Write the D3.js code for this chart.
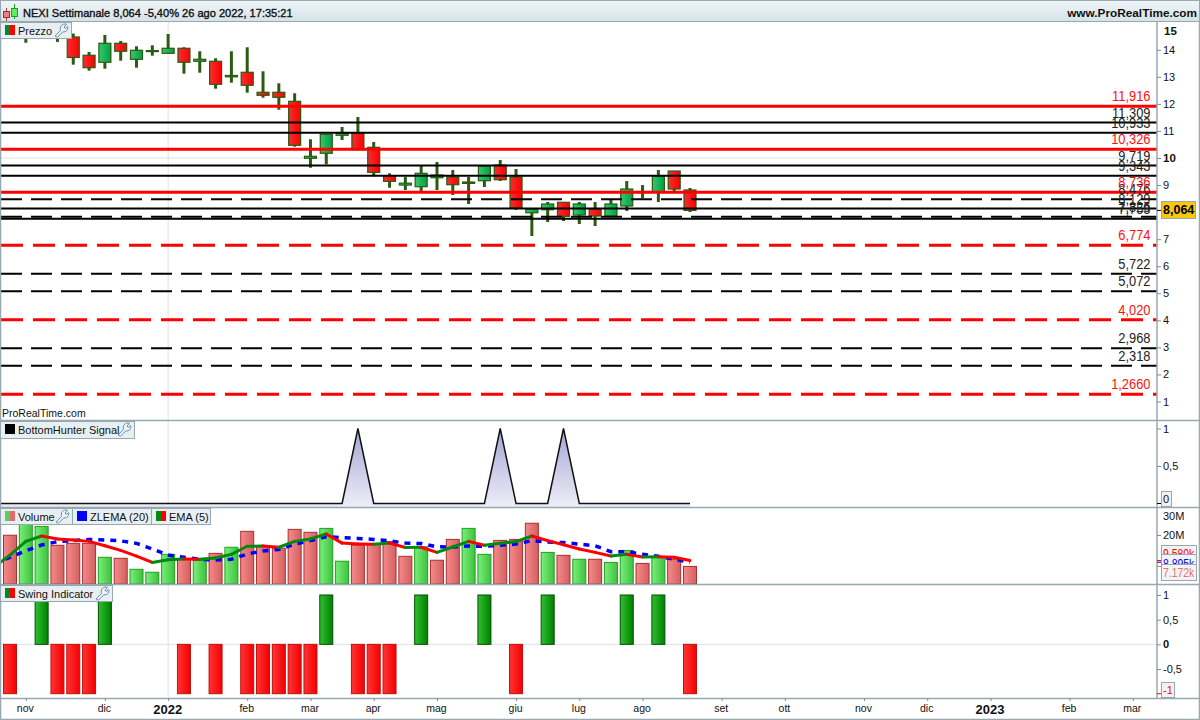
<!DOCTYPE html>
<html><head><meta charset="utf-8">
<script src="https://cdn.jsdelivr.net/npm/d3@7"></script>
<style>
html,body{margin:0;padding:0;background:#fff}
svg{display:block}
text{font-family:"Liberation Sans",Arial,sans-serif;fill:#111}
.axis path{display:none}
.axis line{stroke:#7f8e96}
.axis text{font-size:11px;fill:#111}
</style></head><body>
<svg id="c" width="1200" height="720"></svg>
<script>
// ---- data ----
const title = "NEXI Settimanale 8,064 -5,40% 26 ago 2022, 17:35:21";
const site = "www.ProRealTime.com";
const open = [14.9,14.6,14.8,14.9,14.473,13.797,13.538,14.24,13.649,13.94,13.87,14.055,13.575,13.575,13.0,13.168,12.429,12.429,12.096,9.989,10.174,10.839,10.924,10.395,9.345,9.0,8.939,9.271,9.297,9.112,9.16,9.741,9.297,7.977,8.088,8.362,7.892,8.114,7.855,8.225,8.724,8.743,9.519,8.817];
const high = [15.1,15.0,15.4,15.2,14.6,13.919,14.547,14.325,14.129,14.166,14.584,14.092,13.944,13.686,13.944,14.092,13.205,12.761,12.392,10.691,10.876,11.146,11.515,10.591,9.434,9.297,9.704,9.852,9.556,9.297,9.704,9.926,9.593,8.151,8.373,8.373,8.373,8.373,8.447,9.149,9.0,9.556,9.519,8.891];
const low = [14.55,14.26,14.5,14.29,13.449,13.227,13.301,13.597,13.338,13.782,13.87,13.116,13.153,12.562,12.784,12.414,12.229,11.785,10.418,9.641,9.767,10.665,10.307,9.323,8.902,8.817,8.78,8.817,8.632,8.299,8.928,9.149,8.077,7.116,7.634,7.671,7.56,7.486,7.83,8.04,8.521,8.373,8.743,8.003];
const close = [14.65,14.9,15.2,14.6,13.715,13.338,14.24,13.945,13.981,13.97,14.055,13.538,13.649,12.724,13.05,12.687,12.318,12.244,10.469,10.063,10.876,10.913,10.307,9.471,9.138,9.07,9.434,9.371,9.013,9.061,9.704,9.197,8.151,8.114,8.299,7.844,8.299,7.855,8.299,8.854,8.761,9.334,8.854,8.064];
const candleUp = [0,1,1,0,0,0,1,0,1,1,1,0,1,0,1,0,0,0,0,1,1,1,0,0,0,1,1,1,0,0,1,0,0,1,1,0,1,0,1,1,1,1,0,0];
const levelsRed = [11.916,10.326,8.736];
const levelsBlack = [11.309,10.933,9.719,9.343,8.129,7.753];
const levelsRedDash = [6.774,4.020,1.266];
const levelsBlackDash = [8.476,7.826,5.722,5.072,2.968,2.318];
const levelLabels = {"1.266":"1,2660"};
const priceTicks = [14,13,12,11,10,9,7,6,5,4,3,2,1];
const signal = [0,0,0,0,0,0,0,0,0,0,0,0,0,0,0,0,0,0,0,0,0,0,0,1,0,0,0,0,0,0,0,0,1,0,0,0,1,0,0,0,0,0,0,0,0]; // first entry is the week before the left edge
const volume = [19.9,27.5,23.5,15.8,16.6,16.6,10.9,10.5,6.0,4.8,12.1,10.1,9.8,12.5,15,21.5,15.2,14.6,22.3,21.1,22.7,9.3,15.9,16.1,17.3,11.3,15.2,9.7,18.2,22.7,12.1,17.8,18.2,24.8,12.9,11.7,10.1,10.1,8.8,13.7,8.4,10.9,10.1,7.172];
const volumeUp = [0,1,1,0,0,0,1,0,1,1,1,0,1,0,1,0,0,0,0,0,1,1,0,0,0,0,1,0,0,1,1,0,0,0,1,0,1,0,1,1,0,1,0,0];
const ema = [7.0,11.8,17.4,19.6,18.4,18,17.4,15.6,13.7,11.4,8.8,9.9,10.2,10.1,10.6,12.1,15.4,15.5,15.0,17.4,18.4,20.4,16.7,16.3,16.2,16.7,14.9,15,12.9,15.1,17.4,15.8,16.6,17.3,19.6,17.7,16,14.3,12.9,11.4,12.1,11,11.1,10.9,9.58];
const zlema = [8.4,10.9,13.6,15.9,17.3,17.7,18.2,18,17.6,16.6,14.3,11.8,10.9,10.1,9.8,10.1,12.2,13.5,14.1,16.3,17.7,19.3,18.9,18.6,18.2,17.6,16.7,16.5,15.2,15.1,15.5,15.4,15.8,16.3,17.7,17.1,16.9,16.3,15.6,13.2,13.2,12.1,11.3,10.1,8.895];
const swing = [-1,0,1,-1,-1,-1,1,0,0,0,0,-1,0,-1,0,-1,-1,-1,-1,-1,1,0,-1,-1,-1,0,1,0,0,0,1,0,-1,0,1,0,0,0,0,1,0,1,0,-1];
const monthIdx = [1,6,10,15,19,23,27,32,36,40,45,49,54,58,62,67,71];
const monthLabels = ["nov","dic","2022","feb","mar","apr","mag","giu","lug","ago","set","ott","nov","dic","2023","feb","mar"];

// ---- scales ----
const svg = d3.select("#c");
const W = 1157;
const x = d3.scaleLinear().domain([0,43]).range([10,690]);
const yP = d3.scaleLinear().domain([10,1]).range([158,401.5]);
const yS = d3.scaleLinear().domain([1,0]).range([428.5,503.5]);
const yV = d3.scaleLinear().domain([0,20]).range([584,535]);
const yW = d3.scaleLinear().domain([1,-1]).range([595,693.7]);

const defs = svg.append("defs");
function grad(id,a,b){const g=defs.append("linearGradient").attr("id",id);
  g.append("stop").attr("offset",0).attr("stop-color",a);g.append("stop").attr("offset",1).attr("stop-color",b);}
grad("cRed","#f23030","#ff0000");grad("cGreen","#38c868","#00a048");
grad("vRed","#f58a8a","#d46060");grad("vGreen","#78f078","#40c040");
grad("sRed","#ff3434","#f40000");grad("sGreen","#30c030","#008000");
const hg=defs.append("linearGradient").attr("id","head").attr("x1",0).attr("x2",0).attr("y1",0).attr("y2",1);
hg.append("stop").attr("offset",0).attr("stop-color","#f0f6f8");hg.append("stop").attr("offset",1).attr("stop-color","#d4e2e8");
const sg=defs.append("linearGradient").attr("id","sig").attr("gradientUnits","userSpaceOnUse").attr("x1",0).attr("x2",0).attr("y1",428).attr("y2",507);
sg.append("stop").attr("offset",0).attr("stop-color","#a4a4d4");sg.append("stop").attr("offset",1).attr("stop-color","#eeeef8");
[["cpP",22,420],["cpS",421,507],["cpV",508,584],["cpW",585,698]].forEach(([id,a,b])=>{
  defs.append("clipPath").attr("id",id).append("rect").attr("x",1).attr("y",a).attr("width",W-1).attr("height",b-a);});

// ---- grid ----
const grid = svg.append("g").attr("stroke","#dfe1e9").attr("stroke-width",1);
grid.append("line").attr("x1",x(10)).attr("x2",x(10)).attr("y1",22).attr("y2",698);
grid.append("line").attr("x1",1).attr("x2",W).attr("y1",yP(10)).attr("y2",yP(10));
grid.append("line").attr("x1",1).attr("x2",W).attr("y1",yW(0)).attr("y2",yW(0));

// ---- price panel ----
const pG = svg.append("g").attr("clip-path","url(#cpP)");
const wickC="#2b5a12";
open.forEach((o,i)=>{
  const c=close[i], top=Math.max(o,c), bot=Math.min(o,c);
  pG.append("line").attr("x1",x(i)).attr("x2",x(i)).attr("y1",yP(high[i])).attr("y2",yP(low[i])).attr("stroke",wickC).attr("stroke-width",3);
  pG.append("rect").attr("x",x(i)-6).attr("width",12).attr("y",yP(top)).attr("height",Math.max(1,yP(bot)-yP(top)))
    .attr("fill",candleUp[i]?"url(#cGreen)":"url(#cRed)").attr("stroke",wickC).attr("stroke-width",1.2);
});
function level(v,color,sw,dash){
  pG.append("line").attr("x1",1).attr("x2",W).attr("y1",yP(v)).attr("y2",yP(v)).attr("stroke",color).attr("stroke-width",sw).attr("stroke-dasharray",dash);
}
levelsBlack.forEach(v=>level(v,"#000",2,null));
levelsBlackDash.forEach(v=>level(v,"#000",2,"21,9"));
levelsRed.forEach(v=>level(v,"#ff0000",3,null));
levelsRedDash.forEach(v=>level(v,"#ff0000",3,"22,10"));
function levelText(v,color){
  const s=levelLabels[String(v)]||d3.format(".3f")(v).replace(".",",");
  svg.append("text").attr("transform",`translate(1150.5,${yP(v)-5}) scale(.92,1)`).attr("text-anchor","end").attr("font-size",14).style("fill",color).text(s);
}
levelsBlack.concat(levelsBlackDash).forEach(v=>levelText(v,"#222"));
levelsRed.concat(levelsRedDash).forEach(v=>levelText(v,"#ff1010"));
svg.append("text").attr("x",2).attr("y",417).attr("font-size",10.5).text("ProRealTime.com");

// ---- signal panel ----
const sigG = svg.append("g").attr("clip-path","url(#cpS)");
const xs = (d,i)=>x(i-1);
sigG.append("path").datum(signal).attr("fill","url(#sig)")
  .attr("d",d3.area().x(xs).y0(507).y1(d=>yS(d)));
sigG.append("path").datum(signal).attr("fill","none").attr("stroke","#111").attr("stroke-width",1.5)
  .attr("d",d3.line().x(xs).y(d=>yS(d)));

// ---- volume panel ----
const vG = svg.append("g").attr("clip-path","url(#cpV)");
volume.forEach((v,i)=>{
  vG.append("rect").attr("x",x(i)-6.5).attr("width",13).attr("y",yV(v)).attr("height",yV(0)-yV(v))
    .attr("fill",volumeUp[i]?"url(#vGreen)":"url(#vRed)").attr("stroke",volumeUp[i]?"#20a020":"#a83030").attr("stroke-width",1);
});
vG.append("path").datum(zlema).attr("fill","none").attr("stroke","#0000ff").attr("stroke-width",3.5).attr("stroke-dasharray","6,6")
  .attr("d",d3.line().x(xs).y(d=>yV(d)));
ema.forEach((v,i)=>{ if(!i) return;
  vG.append("line").attr("x1",xs(0,i-1)).attr("x2",xs(0,i)).attr("y1",yV(ema[i-1])).attr("y2",yV(v))
    .attr("stroke",v>=ema[i-1]?"#008a10":"#ff0000").attr("stroke-width",3).attr("stroke-linecap","round");
});

// ---- swing panel ----
const wG = svg.append("g").attr("clip-path","url(#cpW)");
swing.forEach((v,i)=>{ if(!v) return;
  const a=yW(Math.max(v,0)), b=yW(Math.min(v,0));
  wG.append("rect").attr("x",x(i)-6.5).attr("width",13).attr("y",a).attr("height",b-a)
    .attr("fill",v>0?"url(#sGreen)":"url(#sRed)").attr("stroke",v>0?"#005000":"#c01010").attr("stroke-width",1);
});

// ---- frame ----
const frame="#98a8b0";
const fr = svg.append("g").attr("stroke",frame);
[420.5,507.5,584.5,698.5].forEach(y=>fr.append("line").attr("x1",0).attr("x2",1200).attr("y1",y).attr("y2",y).attr("stroke-width",1.3));
fr.append("line").attr("x1",W).attr("x2",W).attr("y1",22).attr("y2",698).attr("stroke-width",1.5);
svg.append("rect").attr("x",0.5).attr("y",0.5).attr("width",1199).attr("height",719).attr("fill","none").attr("stroke",frame).attr("stroke-width",1.5);
svg.append("rect").attr("x",0.5).attr("y",0.5).attr("width",1199).attr("height",21).attr("fill","url(#head)").attr("stroke",frame);

// header
const hi=svg.append("g");
hi.append("line").attr("x1",6.5).attr("x2",6.5).attr("y1",8).attr("y2",21).attr("stroke","#b04040");
hi.append("rect").attr("x",3.5).attr("y",11.5).attr("width",6).attr("height",6).attr("fill","#f08080").attr("stroke","#a03030");
hi.append("line").attr("x1",14.5).attr("x2",14.5).attr("y1",4).attr("y2",19).attr("stroke","#20a020");
hi.append("rect").attr("x",11.5).attr("y",8.5).attr("width",6).attr("height",8).attr("fill","#60ee60").attr("stroke","#20a020");
svg.append("text").attr("x",23).attr("y",17).attr("font-size",11.05).attr("stroke","#101010").attr("stroke-width",.35).style("fill","#101010").text(title);
svg.append("text").attr("x",1197).attr("y",17).attr("text-anchor","end").attr("font-size",11.8).attr("font-weight","bold").text(site);

// legends
function wrench(g,px,py){
  g.append("path").attr("transform",`translate(${px},${py})`)
   .attr("d","M1 13 L6.5 7.5 C5.5 4 7.5 1 11 1 L12.5 1.3 L10 4 L11.2 5.6 L13.6 3.6 C14.4 6.8 12 9.5 8.8 8.8 L3.5 14.2 Z")
   .attr("fill","#eef3f6").attr("stroke","#6c90ac").attr("stroke-width",1);
}
function legend(bx,by,bw,bh,label,swatches,wr){
  const g=svg.append("g");
  g.append("rect").attr("x",bx+.5).attr("y",by+.5).attr("width",bw).attr("height",bh).attr("fill","#e8eff2").attr("stroke",frame);
  swatches.forEach((c,i)=>g.append("rect").attr("x",bx+5+i*5).attr("y",by+3).attr("width",swatches.length>1?5:10).attr("height",10).attr("fill",c));
  g.append("text").attr("x",bx+18).attr("y",by+13).attr("font-size",11).text(label);
  if(wr) wrench(g,bx+bw-17,by+1);
}
legend(0,22,71,16,"Prezzo",["#008a30","#ff0000"],true);
legend(0,421,134,17,"BottomHunter Signal",["#000000"],true);
legend(0,508,72,16,"Volume",["#5ccc5c","#e06c6c"],true);
legend(72,508,79,16,"ZLEMA (20)",["#0000ff"],false);
legend(151,508,59,16,"EMA (5)",["#008a10","#ff0000"],false);
legend(0,585,112,16,"Swing Indicator",["#008a30","#ff0000"],true);

// axes
function rightAxis(scale,vals,fmt){
  return svg.append("g").attr("class","axis").attr("transform",`translate(${W},0)`)
    .call(d3.axisRight(scale).tickValues(vals).tickSize(4).tickPadding(2).tickFormat(fmt));
}
const pa=rightAxis(yP,priceTicks,d=>d);
pa.selectAll("text").style("font-weight",d=>d===10?"bold":null).style("font-size",d=>d===10?"11.5px":null);
svg.append("text").attr("x",1164).attr("y",35).attr("font-size",11.5).attr("font-weight","bold").text("15");
rightAxis(yS,[1,0.5],d=>String(d).replace(".",","));
rightAxis(yV,[20],d=>d+"M");
svg.append("text").attr("x",1163).attr("y",520).attr("font-size",11).text("30M");
const wa=rightAxis(yW,[1,0.5,0,-0.5],d=>String(d).replace(".",","));
wa.selectAll("text").style("font-weight",d=>d===0?"bold":null);

function valueBox(bx,by,bw,bh,txt,color,fill,stroke,tx,ty,fs,weight,sx){
  const g=svg.append("g");
  g.append("rect").attr("x",bx+.5).attr("y",by+.5).attr("width",bw).attr("height",bh).attr("fill",fill).attr("stroke",stroke);
  const cid="b"+Math.round(by);
  defs.append("clipPath").attr("id",cid).append("rect").attr("x",bx).attr("y",by).attr("width",bw+1).attr("height",bh);
  g.append("g").attr("clip-path",`url(#${cid})`).append("text").attr("transform",`translate(${tx},${ty}) scale(${sx||1},1)`)
    .attr("font-size",fs).attr("font-weight",weight||"normal").style("fill",color).text(txt);
}
function mark(y,c){svg.append("line").attr("x1",W).attr("x2",W+4).attr("y1",y).attr("y2",y).attr("stroke",c).attr("stroke-width",1);}
mark(yP(8.064),"#000");
valueBox(1161,201,34,17,"8,064","#000","#f8c810","#98a8b0",1163,214,12.5,"bold");
mark(yS(0),"#000");
valueBox(1161,491,10,15,"0","#111","#f2f2f2",frame,1163,503,11);
mark(yV(9.58),"#ff0000");mark(yV(8.895),"#0000ff");mark(yV(7.172),"#e87070");
valueBox(1161,545,35,9,"9,580k","#ff0000","#f4f4f4",frame,1163,558,13,null,.8);
valueBox(1161,554,35,10,"8,895k","#0000ff","#f4f4f4",frame,1163,568,13,null,.8);
valueBox(1161,564,35,16,"7.172k","#e87070","#f4f4f4",frame,1163,577,13,null,.8);
mark(yW(-1),"#ff0000");
valueBox(1161,682,13,15,"-1","#e01010","#f2f2f2",frame,1163,694,11);

const ax=svg.append("g").attr("class","axis").attr("transform","translate(0,698)")
  .call(d3.axisBottom(x).tickValues(monthIdx).tickSize(3).tickPadding(4).tickFormat((d,i)=>monthLabels[i]));
ax.selectAll("text").attr("dx",-1).style("font-size",d=>(d===10||d===62)?"13px":"10.5px").style("font-weight",d=>(d===10||d===62)?"bold":null);
</script>
</body></html>
